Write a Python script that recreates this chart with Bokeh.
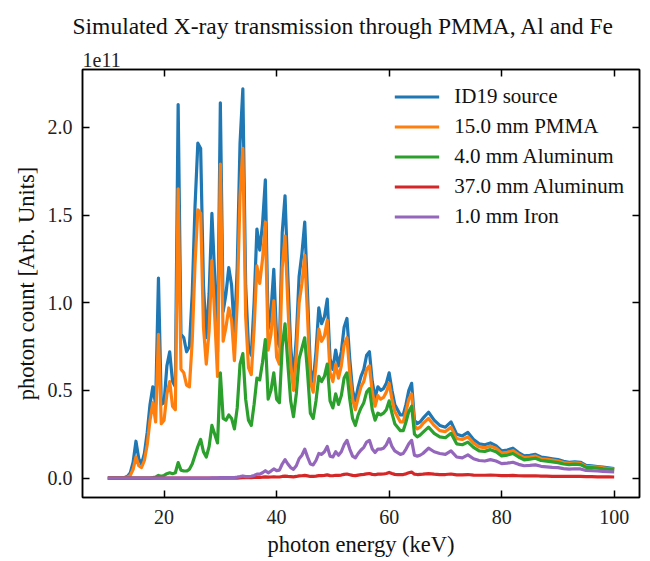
from bokeh.plotting import figure
from bokeh.models import Range1d, LinearAxis, FixedTicker, PrintfTickFormatter, Title
from bokeh.embed import file_html
from bokeh.resources import INLINE

energy = [
    10.0, 10.5, 11.0, 11.5, 12.0, 12.5, 13.0, 13.5, 14.0, 14.5,
    15.0, 15.5, 16.0, 16.5, 17.0, 17.5, 18.0, 18.5, 19.0, 19.5,
    20.0, 20.5, 21.0, 21.5, 22.0, 22.5, 23.0, 23.5, 24.0, 24.5,
    25.0, 25.5, 26.0, 26.5, 27.0, 27.5, 28.0, 28.5, 29.0, 29.5,
    30.0, 30.5, 31.0, 31.5, 32.0, 32.5, 33.0, 33.5, 34.0, 34.5,
    35.0, 35.5, 36.0, 36.5, 37.0, 37.5, 38.0, 38.5, 39.0, 39.5,
    40.0, 40.5, 41.0, 41.5, 42.0, 42.5, 43.0, 43.5, 44.0, 44.5,
    45.0, 45.5, 46.0, 46.5, 47.0, 47.5, 48.0, 48.5, 49.0, 49.5,
    50.0, 50.5, 51.0, 51.5, 52.0, 52.5, 53.0, 53.5, 54.0, 54.5,
    55.0, 55.5, 56.0, 56.5, 57.0, 57.5, 58.0, 58.5, 59.0, 59.5,
    60.0, 60.5, 61.0, 61.5, 62.0, 62.5, 63.0, 63.5, 64.0, 64.5,
    65.0, 65.5, 66.0,
    67, 68, 69, 70, 71, 72, 73, 74, 75, 76,
    77, 78, 79, 80, 81, 82, 83, 84, 85, 86,
    87, 88, 89, 90, 91, 92, 93, 94, 95, 96,
    97, 98, 99, 100,
]

# photon counts in units of 1e11
source_id19 = [
    0, 0, 0, 0, 0, 0.001, 0.003, 0.01, 0.03, 0.09,
    0.21, 0.11, 0.08, 0.14, 0.26, 0.42, 0.52, 0.42, 1.14, 0.42,
    0.43, 0.64, 0.72, 0.55, 0.52, 2.13, 0.82, 0.80, 0.72, 0.75,
    1.05, 1.55, 1.91, 1.88, 1.10, 0.80, 1.05, 1.51, 1.15, 0.72,
    2.14, 0.95, 1.05, 1.20, 1.10, 0.82, 1.20, 1.91, 2.22, 1.10,
    0.75, 0.70, 1.00, 1.42, 1.30, 1.45, 1.70, 0.85, 0.95, 1.19,
    0.80, 0.75, 1.40, 1.61, 1.15, 0.75, 0.57, 0.80, 1.15, 1.28,
    1.46, 1.05, 0.62, 0.55, 0.72, 0.97, 0.88, 0.92, 1.02, 0.68,
    0.62, 0.73, 0.64, 0.72, 0.86, 0.91, 0.68, 0.50, 0.44, 0.52,
    0.58, 0.62, 0.70, 0.72, 0.55, 0.46, 0.52, 0.50, 0.51, 0.54,
    0.60, 0.50, 0.42, 0.39, 0.36, 0.36, 0.42, 0.50, 0.54, 0.33,
    0.31, 0.32, 0.34,
    0.375, 0.33, 0.30, 0.29, 0.32, 0.25, 0.24, 0.26, 0.22, 0.195,
    0.19, 0.20, 0.185, 0.155, 0.16, 0.17, 0.145, 0.126, 0.13, 0.135,
    0.12, 0.115, 0.11, 0.105, 0.095, 0.09, 0.093, 0.09, 0.072, 0.07,
    0.066, 0.062, 0.058, 0.054,
]

pmma_15mm = [
    0, 0, 0, 0, 0, 0, 0.002, 0.005, 0.015, 0.05,
    0.12, 0.07, 0.06, 0.10, 0.19, 0.33, 0.43, 0.32, 0.82, 0.31,
    0.33, 0.48, 0.55, 0.41, 0.39, 1.65, 0.62, 0.60, 0.53, 0.52,
    0.78, 1.22, 1.53, 1.51, 0.86, 0.65, 0.84, 1.24, 0.92, 0.58,
    1.79, 0.78, 0.86, 0.97, 0.90, 0.67, 1.00, 1.61, 1.88, 0.92,
    0.63, 0.59, 0.85, 1.21, 1.11, 1.25, 1.46, 0.73, 0.82, 1.01,
    0.69, 0.65, 1.20, 1.38, 0.99, 0.65, 0.50, 0.70, 1.00, 1.11,
    1.27, 0.92, 0.55, 0.49, 0.64, 0.85, 0.78, 0.81, 0.90, 0.60,
    0.55, 0.65, 0.57, 0.64, 0.76, 0.80, 0.60, 0.45, 0.39, 0.46,
    0.52, 0.55, 0.62, 0.64, 0.49, 0.41, 0.47, 0.45, 0.46, 0.49,
    0.54, 0.45, 0.38, 0.35, 0.32, 0.32, 0.38, 0.45, 0.48, 0.30,
    0.28, 0.29, 0.31,
    0.34, 0.30, 0.27, 0.265, 0.29, 0.225, 0.22, 0.235, 0.20, 0.178,
    0.173, 0.182, 0.17, 0.142, 0.147, 0.156, 0.134, 0.116, 0.12, 0.125,
    0.11, 0.106, 0.102, 0.097, 0.088, 0.084, 0.087, 0.084, 0.067, 0.065,
    0.062, 0.058, 0.054, 0.051,
]

al_4mm = [
    0, 0, 0, 0, 0, 0, 0, 0, 0, 0,
    0, 0, 0, 0, 0, 0, 0.002, 0.005, 0.015, 0.01,
    0.015, 0.025, 0.03, 0.025, 0.03, 0.088, 0.045, 0.04, 0.04, 0.05,
    0.08, 0.13, 0.18, 0.22, 0.15, 0.12, 0.18, 0.30, 0.25, 0.20,
    0.60, 0.34, 0.33, 0.36, 0.34, 0.28, 0.40, 0.65, 0.71, 0.45,
    0.33, 0.30, 0.42, 0.57, 0.56, 0.66, 0.79, 0.45, 0.50, 0.60,
    0.45, 0.43, 0.75, 0.88, 0.65, 0.44, 0.35, 0.48, 0.68, 0.74,
    0.80, 0.60, 0.37, 0.34, 0.44, 0.58, 0.55, 0.58, 0.65, 0.44,
    0.40, 0.48, 0.42, 0.47, 0.57, 0.60, 0.45, 0.34, 0.30, 0.36,
    0.40, 0.43, 0.49, 0.51, 0.39, 0.33, 0.37, 0.36, 0.37, 0.39,
    0.44, 0.37, 0.31, 0.29, 0.27, 0.27, 0.32, 0.38, 0.41, 0.25,
    0.235, 0.245, 0.26,
    0.29, 0.255, 0.235, 0.23, 0.255, 0.195, 0.19, 0.205, 0.175, 0.155,
    0.152, 0.162, 0.15, 0.126, 0.131, 0.14, 0.12, 0.104, 0.108, 0.113,
    0.10, 0.096, 0.092, 0.088, 0.08, 0.076, 0.079, 0.077, 0.061, 0.06,
    0.057, 0.053, 0.05, 0.047,
]

al_37mm = [
    0, 0, 0, 0, 0, 0, 0, 0, 0, 0,
    0, 0, 0, 0, 0, 0, 0, 0, 0, 0,
    0, 0, 0, 0, 0, 0, 0, 0, 0, 0,
    0, 0, 0, 0, 0, 0, 0, 0, 0, 0,
    0, 0, 0, 0, 0, 0, 0, 0.001, 0.002, 0.002,
    0.002, 0.002, 0.003, 0.004, 0.004, 0.005, 0.007, 0.005, 0.006, 0.007,
    0.006, 0.006, 0.009, 0.011, 0.009, 0.008, 0.007, 0.009, 0.012, 0.013,
    0.015, 0.012, 0.009, 0.009, 0.011, 0.014, 0.014, 0.015, 0.018, 0.014,
    0.013, 0.016, 0.015, 0.017, 0.021, 0.023, 0.019, 0.015, 0.014, 0.017,
    0.019, 0.021, 0.024, 0.026, 0.021, 0.019, 0.022, 0.022, 0.023, 0.026,
    0.032, 0.026, 0.021, 0.02, 0.019, 0.02, 0.024, 0.03, 0.034, 0.022,
    0.02, 0.021, 0.022,
    0.025, 0.022, 0.02, 0.02, 0.023, 0.018, 0.018, 0.02, 0.017, 0.016,
    0.016, 0.017, 0.016, 0.014, 0.014, 0.015, 0.013, 0.012, 0.012, 0.013,
    0.011, 0.011, 0.01, 0.01, 0.009, 0.009, 0.009, 0.009, 0.008, 0.008,
    0.007, 0.007, 0.007, 0.006,
]

fe_1mm = [
    0, 0, 0, 0, 0, 0, 0, 0, 0, 0,
    0, 0, 0, 0, 0, 0, 0, 0, 0, 0,
    0, 0, 0, 0, 0, 0, 0, 0, 0, 0,
    0, 0, 0, 0, 0, 0, 0, 0.001, 0.001, 0.001,
    0.003, 0.002, 0.002, 0.003, 0.003, 0.003, 0.005, 0.008, 0.012, 0.008,
    0.008, 0.01, 0.015, 0.022, 0.022, 0.03, 0.042, 0.03, 0.04, 0.052,
    0.042, 0.045, 0.08, 0.105, 0.08, 0.06, 0.05, 0.07, 0.11, 0.13,
    0.165, 0.12, 0.08, 0.075, 0.10, 0.14, 0.135, 0.15, 0.18, 0.125,
    0.12, 0.15, 0.13, 0.15, 0.19, 0.215, 0.165, 0.125, 0.115, 0.14,
    0.16, 0.175, 0.205, 0.215, 0.165, 0.145, 0.165, 0.165, 0.17, 0.19,
    0.225, 0.18, 0.155, 0.145, 0.135, 0.14, 0.165, 0.195, 0.215, 0.13,
    0.125, 0.13, 0.14,
    0.17, 0.15, 0.14, 0.135, 0.155, 0.12, 0.115, 0.132, 0.11, 0.1,
    0.097, 0.105, 0.097, 0.082, 0.085, 0.09, 0.078, 0.07, 0.072, 0.075,
    0.067, 0.064, 0.061, 0.059, 0.054, 0.051, 0.053, 0.052, 0.043, 0.042,
    0.04, 0.038, 0.036, 0.035,
]

series_labels = ["ID19 source", "15.0 mm PMMA", "4.0 mm Aluminum", "37.0 mm Aluminum", "1.0 mm Iron"]
series_colors = ["#1f77b4", "#ff7f0e", "#2ca02c", "#d62728", "#9467bd"]
x_ticks = [20, 40, 60, 80, 100]
y_ticks = [0.0, 0.5, 1.0, 1.5, 2.0]
title_text = "Simulated X-ray transmission through PMMA, Al and Fe"
offset_text = "1e11"

FONT = "Liberation Serif"

p = figure(width=650, height=561, output_backend="svg", toolbar_location=None,
           x_range=Range1d(5.5, 104.5), y_range=Range1d(-0.111, 2.33),
           min_border_left=82, min_border_right=11, min_border_top=69, min_border_bottom=64,
           background_fill_color="white", border_fill_color="white")
p.title = None

p.xgrid.visible = False
p.ygrid.visible = False
p.outline_line_color = "black"
p.outline_line_width = 1.5


def style_axis(ax, show_labels=True):
    ax.major_tick_in = 7
    ax.major_tick_out = 0
    ax.minor_tick_in = 0
    ax.minor_tick_out = 0
    ax.major_tick_line_width = 1.5
    ax.axis_line_width = 1.5
    ax.major_tick_line_color = "black"
    ax.axis_line_color = "black"
    ax.major_label_text_font = FONT
    ax.axis_label_text_font = FONT
    ax.axis_label_text_font_style = "normal"
    ax.axis_label_text_font_size = "22.5px"
    ax.axis_label_text_color = "#111111"
    if show_labels:
        ax.major_label_text_font_size = "20px"
        ax.major_label_text_color = "#222222"
    else:
        ax.major_label_text_font_size = "1px"
        ax.major_label_text_color = None
        ax.major_label_standoff = 0
        ax.axis_label_standoff = 0


xa = p.xaxis[0]
xa.ticker = FixedTicker(ticks=x_ticks)
xa.axis_label = "photon energy (keV)"
style_axis(xa)
xa.major_label_standoff = 12
xa.axis_label_standoff = 5

ya = p.yaxis[0]
ya.ticker = FixedTicker(ticks=y_ticks)
ya.formatter = PrintfTickFormatter(format="%.1f")
ya.axis_label = "photon count [Arb. Units]"
style_axis(ya)
ya.major_label_standoff = 10
ya.axis_label_standoff = 6

top_ax = LinearAxis(ticker=FixedTicker(ticks=x_ticks))
style_axis(top_ax, show_labels=False)
p.add_layout(top_ax, "above")

right_ax = LinearAxis(ticker=FixedTicker(ticks=y_ticks))
style_axis(right_ax, show_labels=False)
p.add_layout(right_ax, "right")

p.add_layout(Title(text=offset_text, align="left", text_font=FONT, text_font_size="20px",
                   text_font_style="normal", text_color="#222222", standoff=5), "above")
p.add_layout(Title(text=title_text, align="left", offset=-10, text_font=FONT,
                   text_font_size="23.5px", text_font_style="normal", text_color="#111111",
                   standoff=19), "above")

all_series = [source_id19, pmma_15mm, al_4mm, al_37mm, fe_1mm]
for vals, lab, col in zip(all_series, series_labels, series_colors):
    p.line(energy, vals, line_color=col, line_width=3.2, line_join="round", legend_label=lab)

p.legend.location = "top_right"
p.legend.border_line_color = None
p.legend.background_fill_alpha = 0
p.legend.label_text_font = FONT
p.legend.label_text_font_size = "21px"
p.legend.label_text_color = "#111111"
p.legend.glyph_width = 45
p.legend.glyph_height = 21
p.legend.label_height = 21
p.legend.label_standoff = 15
p.legend.spacing = 5
p.legend.padding = 6
p.legend.margin = 15

open("out.html", "w").write(file_html(p, INLINE))
